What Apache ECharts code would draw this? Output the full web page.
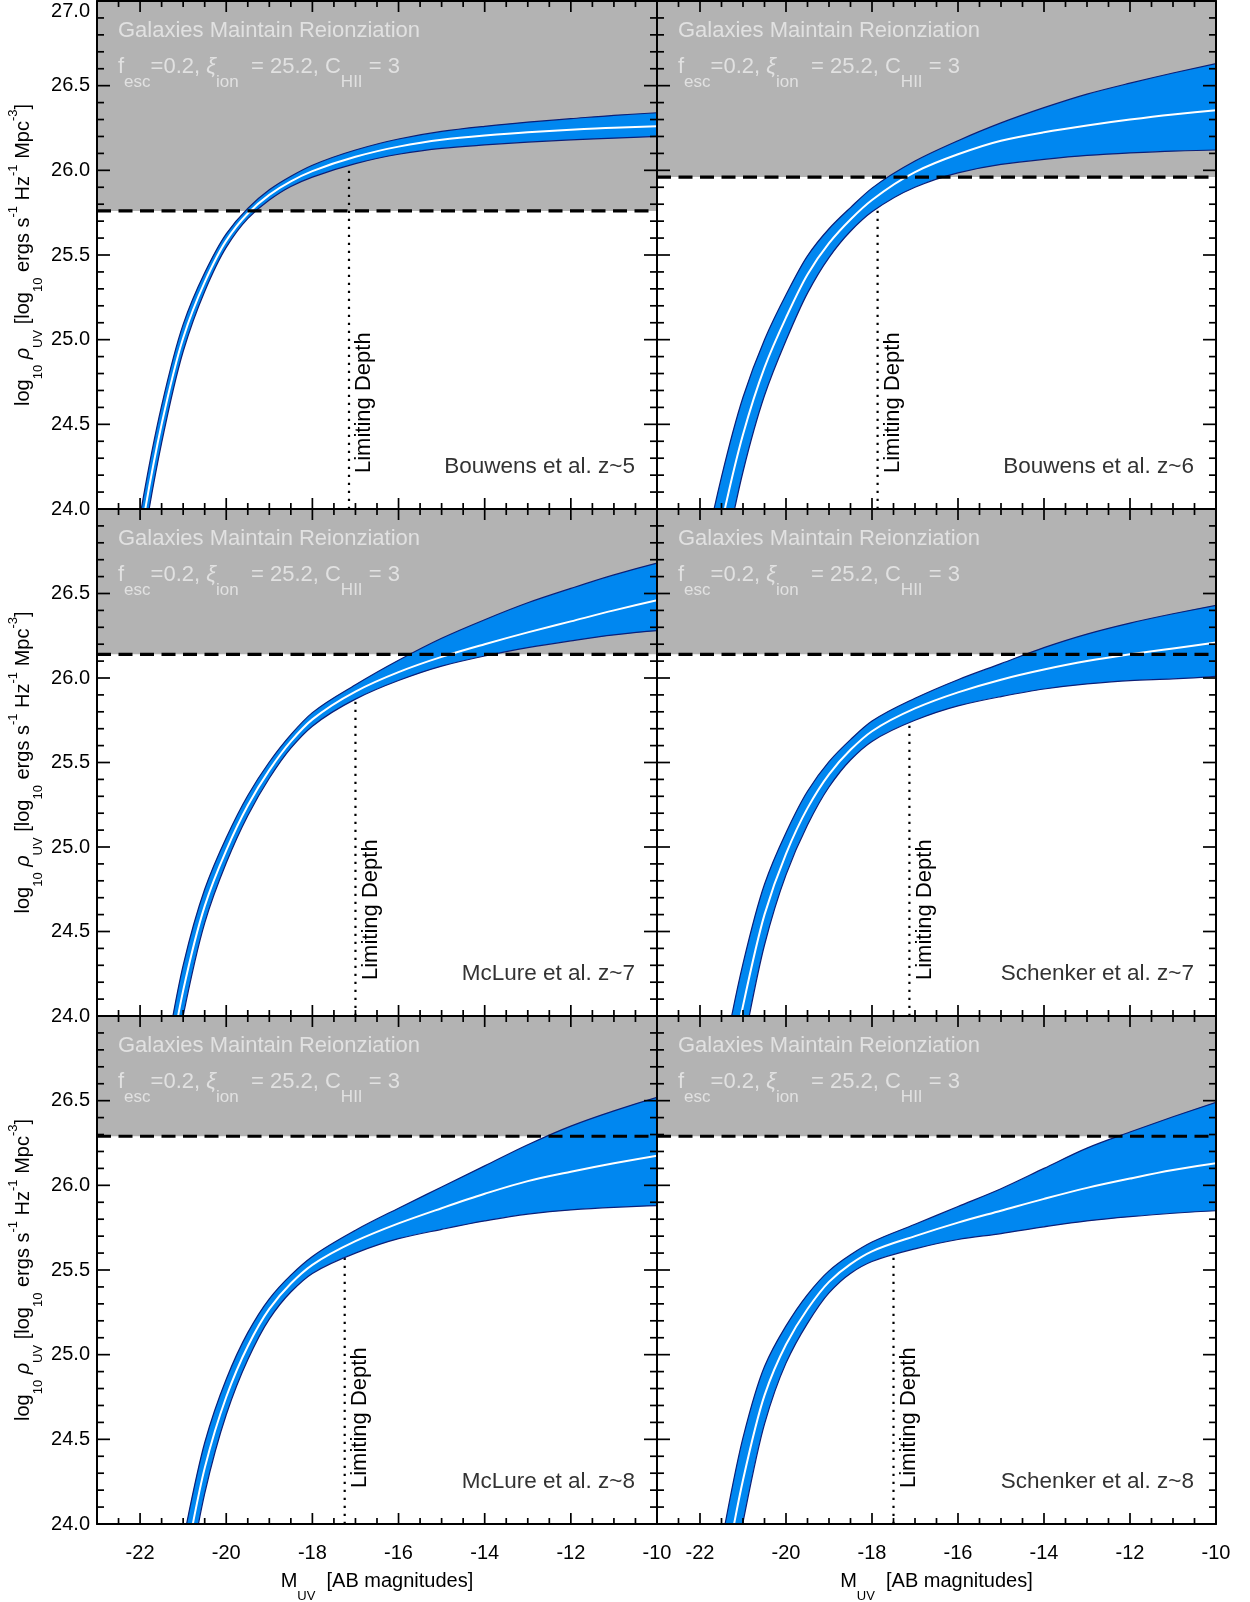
<!DOCTYPE html>
<html><head><meta charset="utf-8">
<script src="https://cdn.jsdelivr.net/npm/echarts@6/dist/echarts.min.js"></script>
<style>html,body{margin:0;padding:0;background:#fff}#c{width:1250px;height:1602px}</style>
</head><body><div id="c"></div>
<script>
const FONT = "'Liberation Sans', Arial, Helvetica, sans-serif";

// ---- data ----
const magGrid = [-22, -21.5, -21, -20.5, -20, -19.5, -19, -18.5, -18, -17, -16, -15, -14, -13, -12, -11, -10];
const xMajorTicks = [-22, -20, -18, -16, -14, -12, -10];

const centerB5 = [23.82, 24.50, 25.01, 25.34, 25.585, 25.745, 25.855, 25.935, 25.995, 26.08, 26.14, 26.18, 26.205, 26.225, 26.24, 26.252, 26.26];
const upperB5  = [23.96, 24.61, 25.09, 25.395, 25.625, 25.775, 25.885, 25.965, 26.03, 26.12, 26.185, 26.23, 26.26, 26.285, 26.305, 26.325, 26.34];
const lowerB5  = [23.68, 24.39, 24.93, 25.285, 25.545, 25.715, 25.825, 25.905, 25.96, 26.04, 26.095, 26.13, 26.15, 26.167, 26.18, 26.19, 26.20];

const centerB6 = [23.26, 23.91, 24.44, 24.835, 25.13, 25.385, 25.57, 25.71, 25.825, 25.99, 26.095, 26.175, 26.225, 26.265, 26.30, 26.33, 26.355];
const upperB6  = [23.60, 24.19, 24.66, 25.00, 25.265, 25.495, 25.655, 25.78, 25.895, 26.055, 26.175, 26.28, 26.37, 26.45, 26.515, 26.575, 26.63];
const lowerB6  = [22.93, 23.62, 24.22, 24.67, 24.995, 25.275, 25.485, 25.64, 25.755, 25.90, 25.985, 26.035, 26.065, 26.088, 26.103, 26.114, 26.12];

const centerM7 = [22.70, 23.45, 24.15, 24.65, 24.98, 25.245, 25.455, 25.625, 25.755, 25.92, 26.035, 26.125, 26.20, 26.27, 26.335, 26.40, 26.46];
const upperM7  = [22.90, 23.63, 24.30, 24.75, 25.055, 25.305, 25.503, 25.665, 25.795, 25.96, 26.105, 26.235, 26.345, 26.445, 26.53, 26.61, 26.68];
const lowerM7  = [22.50, 23.27, 24.00, 24.55, 24.905, 25.185, 25.407, 25.585, 25.715, 25.875, 25.985, 26.07, 26.13, 26.18, 26.22, 26.255, 26.28];

const centerS7 = [22.60, 23.40, 24.06, 24.60, 24.96, 25.23, 25.43, 25.575, 25.685, 25.82, 25.915, 25.99, 26.05, 26.10, 26.14, 26.175, 26.21];
const upperS7  = [22.94, 23.69, 24.31, 24.78, 25.085, 25.33, 25.505, 25.635, 25.745, 25.88, 25.99, 26.085, 26.18, 26.26, 26.325, 26.38, 26.43];
const lowerS7  = [22.26, 23.11, 23.81, 24.42, 24.835, 25.13, 25.355, 25.515, 25.625, 25.75, 25.835, 25.89, 25.935, 25.965, 25.985, 25.995, 26.01];

const centerM8 = [22.25, 23.00, 23.70, 24.33, 24.75, 25.05, 25.27, 25.42, 25.53, 25.67, 25.775, 25.865, 25.95, 26.025, 26.08, 26.13, 26.175];
const upperM8  = [22.47, 23.21, 23.90, 24.48, 24.855, 25.13, 25.33, 25.47, 25.58, 25.735, 25.865, 25.99, 26.115, 26.24, 26.35, 26.44, 26.52];
const lowerM8  = [22.03, 22.79, 23.50, 24.18, 24.645, 24.97, 25.21, 25.37, 25.48, 25.60, 25.685, 25.74, 25.79, 25.83, 25.855, 25.87, 25.88];

const centerS8 = [22.88, 23.60, 24.26, 24.76, 25.06, 25.27, 25.43, 25.535, 25.61, 25.70, 25.78, 25.85, 25.92, 25.985, 26.04, 26.09, 26.13];
const upperS8  = [23.20, 23.89, 24.51, 24.93, 25.17, 25.355, 25.495, 25.59, 25.665, 25.77, 25.875, 25.98, 26.10, 26.22, 26.315, 26.405, 26.49];
const lowerS8  = [22.56, 23.31, 24.01, 24.59, 24.95, 25.185, 25.365, 25.48, 25.55, 25.625, 25.68, 25.715, 25.755, 25.79, 25.815, 25.835, 25.85];

const panelNames = ['Bouwens et al. z~5', 'Bouwens et al. z~6', 'McLure et al. z~7', 'Schenker et al. z~7', 'McLure et al. z~8', 'Schenker et al. z~8'];
const threshold = [25.76, 25.96, 26.14, 26.14, 26.29, 26.29];
const limDepth = [-17.15, -17.87, -17.0, -17.13, -17.25, -17.5];
const limTop = [26.11, 25.92, 25.96, 25.865, 25.70, 25.72];

const panels = [
  {center: centerB5, upper: upperB5, lower: lowerB5},
  {center: centerB6, upper: upperB6, lower: lowerB6},
  {center: centerM7, upper: upperM7, lower: lowerM7},
  {center: centerS7, upper: upperS7, lower: lowerS7},
  {center: centerM8, upper: upperM8, lower: lowerM8},
  {center: centerS8, upper: upperS8, lower: lowerS8}
];

// ---- layout ----
const colLeft = [97, 657], colWidth = [560, 559];
const rowTop = [1, 509, 1016], rowHeight = [508, 507, 508];
const BLUE = '#0087f0', NAVY = '#0b1f78', GRAY = '#b3b3b3';

// monotone (PCHIP) slopes
function endSlope(h0, h1, d0, d1) {
  let s = ((2 * h0 + h1) * d0 - h0 * d1) / (h0 + h1);
  if (s * d0 <= 0) s = 0;
  else if (d0 * d1 <= 0 && Math.abs(s) > Math.abs(3 * d0)) s = 3 * d0;
  return s;
}
function slopes(x, y) {
  const n = x.length, h = [], d = [], m = new Array(n);
  for (let k = 0; k < n - 1; k++) { h[k] = x[k + 1] - x[k]; d[k] = (y[k + 1] - y[k]) / h[k]; }
  for (let k = 1; k < n - 1; k++) {
    if (d[k - 1] * d[k] <= 0) m[k] = 0;
    else { const w1 = 2 * h[k] + h[k - 1], w2 = h[k] + 2 * h[k - 1]; m[k] = (w1 + w2) / (w1 / d[k - 1] + w2 / d[k]); }
  }
  m[0] = endSlope(h[0], h[1], d[0], d[1]);
  m[n - 1] = endSlope(h[n - 2], h[n - 3], d[n - 2], d[n - 3]);
  return m;
}
const f2 = p => p[0].toFixed(2) + ' ' + p[1].toFixed(2);
function curve(x, y, P) {
  const m = slopes(x, y), n = x.length;
  const segs = [];
  for (let k = 0; k < n - 1; k++) {
    const h = x[k + 1] - x[k];
    segs.push([P(x[k], y[k]), P(x[k] + h / 3, y[k] + m[k] * h / 3), P(x[k + 1] - h / 3, y[k + 1] - m[k + 1] * h / 3), P(x[k + 1], y[k + 1])]);
  }
  let d = 'M ' + f2(segs[0][0]);
  segs.forEach(s => { d += ' C ' + f2(s[1]) + ' ' + f2(s[2]) + ' ' + f2(s[3]); });
  let rev = '';
  for (let k = segs.length - 1; k >= 0; k--) { const s = segs[k]; rev += ' C ' + f2(s[2]) + ' ' + f2(s[1]) + ' ' + f2(s[0]); }
  return {d, rev, end: segs[segs.length - 1][3]};
}

function txtStyle(o) {
  const s = Object.assign({legacy: false, fontFamily: FONT}, o);
  if (o.fill) s.textFill = o.fill;
  if (o.align) s.textAlign = o.align;
  if (o.verticalAlign) s.textVerticalAlign = o.verticalAlign;
  return s;
}
// rich token: "h" = token box height; with verticalAlign 'top' the glyph centre sits at h/2 below the line top
function richItem(size, h, fill, italic) {
  const s = {fontSize: size, fontFamily: FONT, height: h, lineHeight: h, verticalAlign: 'top', textVerticalAlign: 'top', fill: fill, textFill: fill, color: fill};
  if (italic) s.fontStyle = 'italic';
  return s;
}

function makeRender(i) {
  const p = panels[i];
  return function (params, api) {
    if (params.dataIndex !== 0) return;
    const cs = params.coordSys;
    const P = (x, y) => api.coord([x, y]);
    const up = curve(magGrid, p.upper, P), lo = curve(magGrid, p.lower, P), ce = curve(magGrid, p.center, P);
    const fillD = up.d + ' L ' + f2(lo.end) + lo.rev + ' Z';
    const g0 = P(-23, 27), g1 = P(-10, threshold[i]);
    const lb = P(limDepth[i], 24), lt = P(limDepth[i], limTop[i]);
    const ticks = [];
    const tk = (x1, y1, x2, y2) => ticks.push({type: 'line', shape: {x1, y1, x2, y2}, style: {stroke: '#000', lineWidth: 1.7}});
    for (let k = 240; k <= 270; k++) {
      const v = k / 10, len = (k % 5 === 0) ? 13 : 7;
      const a = P(-23, v), b = P(-10, v);
      tk(a[0], a[1], a[0] + len, a[1]);
      tk(b[0], b[1], b[0] - len, b[1]);
    }
    for (let k = -46; k <= -20; k++) {
      const v = k / 2, len = (k % 4 === 0) ? 11 : 6;
      const a = P(v, 24), b = P(v, 27);
      tk(a[0], a[1], a[0], a[1] - len);
      tk(b[0], b[1], b[0], b[1] + len);
    }
    const clipped = {
      type: 'group',
      clipPath: {type: 'rect', shape: {x: cs.x, y: cs.y, width: cs.width, height: cs.height}},
      children: [
        {type: 'rect', shape: {x: g0[0], y: g0[1], width: g1[0] - g0[0], height: g1[1] - g0[1]}, style: {fill: GRAY}},
        {type: 'line', shape: {x1: lb[0], y1: lb[1], x2: lt[0], y2: lt[1]}, style: {stroke: '#000', lineWidth: 2.2, lineDash: [2.2, 5.8]}},
        {type: 'path', shape: {pathData: fillD}, style: {fill: BLUE, stroke: null}},
        {type: 'path', shape: {pathData: up.d}, style: {fill: null, stroke: NAVY, lineWidth: 1.2}},
        {type: 'path', shape: {pathData: lo.d}, style: {fill: null, stroke: NAVY, lineWidth: 1.2}},
        {type: 'path', shape: {pathData: ce.d}, style: {fill: null, stroke: '#ffffff', lineWidth: 2}},
        {type: 'line', shape: {x1: g0[0], y1: g1[1], x2: g1[0], y2: g1[1]}, style: {stroke: '#000', lineWidth: 3.2, lineDash: [14, 7.5]}}
      ].concat(ticks)
    };
    const LT = '#e1e1e1';
    const texts = [
      {type: 'text', x: cs.x + 21, y: cs.y + 30,
        style: txtStyle({text: 'Galaxies Maintain Reionziation', fill: LT, fontSize: 22, align: 'left', verticalAlign: 'middle'})},
      {type: 'text', x: cs.x + 21, y: cs.y + 52.7,
        style: txtStyle({
          text: '{m|f}{s|esc}{m|=0.2, }{mi|ξ}{s|ion}{m|  = 25.2, C}{s|HII}{m| = 3}',
          fill: LT, fontSize: 22, align: 'left', verticalAlign: 'top',
          rich: {m: richItem(22, 26, LT), mi: richItem(22, 26, LT, true), s: richItem(17, 58, LT)}
        })},
      {type: 'text', x: cs.x + cs.width - 22, y: cs.y + cs.height - 42,
        style: txtStyle({text: panelNames[i], fill: '#333333', fontSize: 22.5, align: 'right', verticalAlign: 'middle'})},
      {type: 'text', x: lb[0] + 15.4, y: cs.y + cs.height - 36, rotation: Math.PI / 2,
        style: txtStyle({text: 'Limiting Depth', fill: '#000000', fontSize: 22, align: 'left', verticalAlign: 'middle'})}
    ];
    return {type: 'group', children: [clipped].concat(texts)};
  };
}

const grids = [], xAxes = [], yAxes = [], series = [];
const axisLine = {show: true, lineStyle: {color: '#000', width: 2}};
for (let i = 0; i < 6; i++) {
  const row = Math.floor(i / 2), col = i % 2;
  grids.push({left: colLeft[col], top: rowTop[row], width: colWidth[col], height: rowHeight[row], containLabel: false, outerBoundsMode: 'none', show: false});
  const xb = {gridIndex: i, type: 'value', min: -23, max: -10, interval: 0.5, z: 10, splitLine: {show: false}, axisPointer: {show: false},
    axisLine, axisTick: {show: false}, minorTick: {show: false}};
  xAxes.push(Object.assign({}, xb, {position: 'bottom',
    axisLabel: {show: row === 2, customValues: xMajorTicks, margin: 19, fontSize: 20, fontFamily: FONT, color: '#000', formatter: v => String(v)}}));
  xAxes.push(Object.assign({}, xb, {position: 'top', axisLabel: {show: false}}));
  const yb = {gridIndex: i, type: 'value', min: 24, max: 27, interval: 0.5, z: 10, splitLine: {show: false}, minorSplitLine: {show: false},
    axisLine, axisTick: {show: false}, minorTick: {show: false}, axisPointer: {show: false}};
  yAxes.push(Object.assign({}, yb, {position: 'left',
    axisLabel: {show: col === 0, margin: 7, fontSize: 20, fontFamily: FONT, color: '#000', formatter: v => v.toFixed(1),
      showMaxLabel: row === 0, showMinLabel: true, verticalAlignMaxLabel: 'top'}}));
  yAxes.push(Object.assign({}, yb, {position: 'right', axisLabel: {show: false}}));
  series.push({type: 'custom', xAxisIndex: 2 * i, yAxisIndex: 2 * i, data: [[-16.5, 25.5]], renderItem: makeRender(i), silent: true, z: 2, clip: false});
}

const yTitle = '{m|log}{sb|10}{m| }{mi|ρ}{sb|UV}{m| [log}{sb|10}{m| ergs s}{sp|-1}{m| Hz}{sp|-1}{m| Mpc}{sp|-3}{m|]}';
const yRich = {
  m: richItem(20, 24, '#000'),
  mi: richItem(20, 24, '#000', true),
  sb: richItem(13, 54, '#000'),
  sp: richItem(13, 4, '#000')
};
const xTitle = '{m|M}{sb|UV}{m|  [AB magnitudes]}';
const graphic = [];
for (let r = 0; r < 3; r++) {
  graphic.push({type: 'text', x: 11.5, y: rowTop[r] + rowHeight[r] / 2, rotation: Math.PI / 2, silent: true,
    style: txtStyle({text: yTitle, rich: yRich, fill: '#000', fontSize: 20, align: 'center', verticalAlign: 'top'})});
}
for (let c = 0; c < 2; c++) {
  graphic.push({type: 'text', x: colLeft[c] + colWidth[c] / 2, y: 1569.7, silent: true,
    style: txtStyle({text: xTitle, rich: yRich, fill: '#000', fontSize: 20, align: 'center', verticalAlign: 'top'})});
}

const chart = echarts.init(document.getElementById('c'), null, {renderer: 'canvas'});
chart.setOption({
  animation: false,
  backgroundColor: '#ffffff',
  grid: grids, xAxis: xAxes, yAxis: yAxes, series: series, graphic: graphic
});
</script>
</body></html>
